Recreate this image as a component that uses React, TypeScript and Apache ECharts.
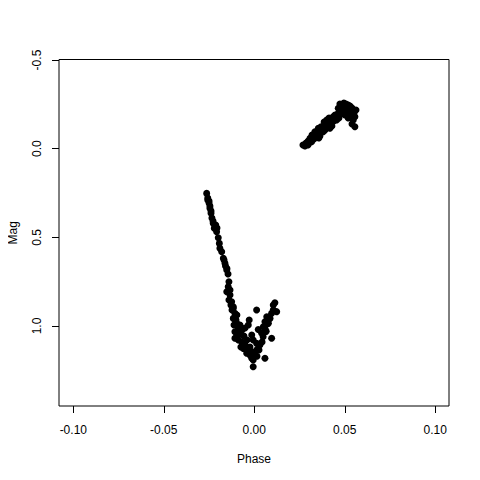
import React, { useEffect, useRef } from "react";
import * as echarts from "echarts";

const phase: number[] = [
  -0.0263, -0.0257, -0.0257, -0.025, -0.0245, -0.0245, -0.0239, -0.0239, -0.0227, -0.0213,
  -0.0221, -0.0208, -0.0199, -0.0193, -0.019, -0.018, -0.0171, -0.0162, -0.0152, -0.0159,
  -0.0151, -0.014, -0.0144, -0.0152, -0.0134, -0.014, -0.0129, -0.0116, -0.0125, -0.0116,
  -0.0107, -0.0116, -0.0097, -0.0088, -0.0107, -0.0079, -0.0107, -0.0088, -0.007, -0.0051,
  -0.0061, -0.0033, -0.0042, -0.0024, -0.0014, -0.0006, 0.0004, 0.0013, 0.0013, 0.0013,
  -0.0028, -0.0033, -0.0014, -0.0006, 0.0031, 0.0041, 0.005, 0.0059, 0.0069, 0.0087,
  0.0096, 0.0105, 0.0114, 0.0105, 0.0124, 0.0096, 0.0059, -0.0006, 0.0077, 0.0059,
  -0.0057, -0.0074, -0.0085, -0.004, -0.0024, -0.0013, 0.0015, 0.0026, 0.0043, -0.0051,
  -0.0068, -0.0101, -0.025, -0.0234, -0.0228, -0.0206, -0.0167, -0.0145, -0.0134, -0.0123,
  -0.0096, -0.0112, -0.0079, -0.0096, 0.0078, 0.0066, 0.0049, 0.0022,
  0.0269, 0.0286, 0.0298, 0.0308, 0.0317, 0.0326, 0.0335, 0.0345, 0.0354, 0.0363,
  0.0369, 0.0381, 0.0391, 0.04, 0.0409, 0.0418, 0.0428, 0.0436, 0.0446, 0.0455,
  0.0464, 0.0464, 0.0483, 0.0492, 0.051, 0.0519, 0.0529, 0.0538, 0.0547, 0.0556,
  0.0556, 0.054, 0.0473, 0.0495, 0.0413, 0.0386, 0.0429, 0.0501, 0.0519, 0.0357,
  0.0319, 0.0308, 0.033, 0.0346, 0.0374, 0.0402, 0.0418, 0.044, 0.0452, 0.0479,
  0.049, 0.0507, 0.0529, 0.0545, 0.0551, 0.0562, 0.054, 0.0507, 0.0468, 0.0391,
  0.0363, 0.028, 0.0297,
];

const mag: number[] = [
  0.252, 0.278, 0.289, 0.306, 0.323, 0.336, 0.351, 0.364, 0.421, 0.43,
  0.449, 0.468, 0.502, 0.534, 0.562, 0.581, 0.618, 0.646, 0.684, 0.662,
  0.676, 0.75, 0.778, 0.807, 0.825, 0.853, 0.882, 0.9, 0.863, 0.891,
  0.928, 0.957, 0.985, 1.013, 1.032, 1.041, 1.069, 1.079, 1.089, 1.107,
  1.126, 1.126, 1.154, 1.164, 1.182, 1.192, 1.164, 1.135, 1.098, 0.91,
  0.966, 0.994, 1.051, 1.079, 1.107, 1.041, 1.004, 0.976, 0.948, 0.957,
  0.928, 0.882, 0.869, 0.91, 0.919, 1.069, 1.182, 1.23, 0.966, 1.013,
  1.056, 1.118, 1.049, 1.079, 1.118, 1.147, 1.17, 1.135, 1.09, 1.011,
  1.023, 0.966, 0.295, 0.391, 0.408, 0.447, 0.628, 0.707, 0.797, 0.91,
  0.938, 0.994, 0.994, 1.056, 0.985, 1.03, 1.06, 1.02,
  -0.021, -0.032, -0.043, -0.059, -0.039, -0.068, -0.096, -0.087, -0.115, -0.087,
  -0.124, -0.096, -0.124, -0.162, -0.143, -0.115, -0.152, -0.18, -0.19, -0.162,
  -0.2, -0.228, -0.218, -0.237, -0.228, -0.246, -0.209, -0.19, -0.162, -0.124,
  -0.18, -0.23, -0.252, -0.258, -0.173, -0.151, -0.128, -0.19, -0.173, -0.06,
  -0.077, -0.037, -0.055, -0.072, -0.111, -0.122, -0.139, -0.156, -0.184, -0.196,
  -0.213, -0.252, -0.241, -0.218, -0.201, -0.218, -0.139, -0.201, -0.173, -0.105,
  -0.072, -0.015, -0.021,
];

const xTicks: number[] = [-0.1, -0.05, 0, 0.05, 0.1];
const yTicks: number[] = [-0.5, 0, 0.5, 1.0];

export default function App() {
  const ref = useRef<HTMLDivElement>(null);
  useEffect(() => {
    if (!ref.current) return;
    const chart = echarts.init(ref.current, null, { renderer: "svg" });
    const font = "Liberation Sans, Arial, Helvetica, sans-serif";
    chart.setOption({
      animation: false,
      backgroundColor: "#ffffff",
      grid: {
        left: 59,
        right: 31,
        top: 59.5,
        bottom: 74,
        containLabel: false,
        outerBoundsMode: "none",
        show: true,
        borderColor: "#000000",
        borderWidth: 1,
        backgroundColor: "transparent",
      },
      xAxis: {
        type: "value",
        min: -0.1079,
        max: 0.1076,
        name: "Phase",
        nameLocation: "middle",
        nameGap: 47,
        nameTextStyle: { fontFamily: font, fontSize: 12, color: "#000" },
        axisLine: { show: false, onZero: false },
        splitLine: { show: false },
        axisTick: {
          show: true,
          length: 7,
          customValues: xTicks,
          lineStyle: { color: "#000" },
        },
        axisLabel: {
          customValues: xTicks,
          margin: 18,
          fontFamily: font,
          fontSize: 12,
          color: "#000",
          formatter: (v: number) => v.toFixed(2),
        },
      },
      yAxis: {
        type: "value",
        inverse: true,
        min: -0.503,
        max: 1.451,
        name: "Mag",
        nameLocation: "middle",
        nameGap: 40,
        nameRotate: 90,
        nameTextStyle: { fontFamily: font, fontSize: 12, color: "#000" },
        axisLine: { show: false, onZero: false },
        splitLine: { show: false },
        axisTick: {
          show: true,
          length: 7,
          customValues: yTicks,
          lineStyle: { color: "#000" },
        },
        axisLabel: {
          customValues: yTicks,
          rotate: 90,
          margin: 16,
          fontFamily: font,
          fontSize: 12,
          color: "#000",
          formatter: (v: number) => v.toFixed(1),
        },
      },
      series: [
        {
          type: "scatter",
          data: phase.map((p, i) => [p, mag[i]]),
          symbol: "circle",
          symbolSize: 7,
          itemStyle: { color: "#000000", opacity: 1 },
        },
      ],
    });
    return () => chart.dispose();
  }, []);
  return <div ref={ref} style={{ width: 480, height: 480, margin: -8 }} />;
}
